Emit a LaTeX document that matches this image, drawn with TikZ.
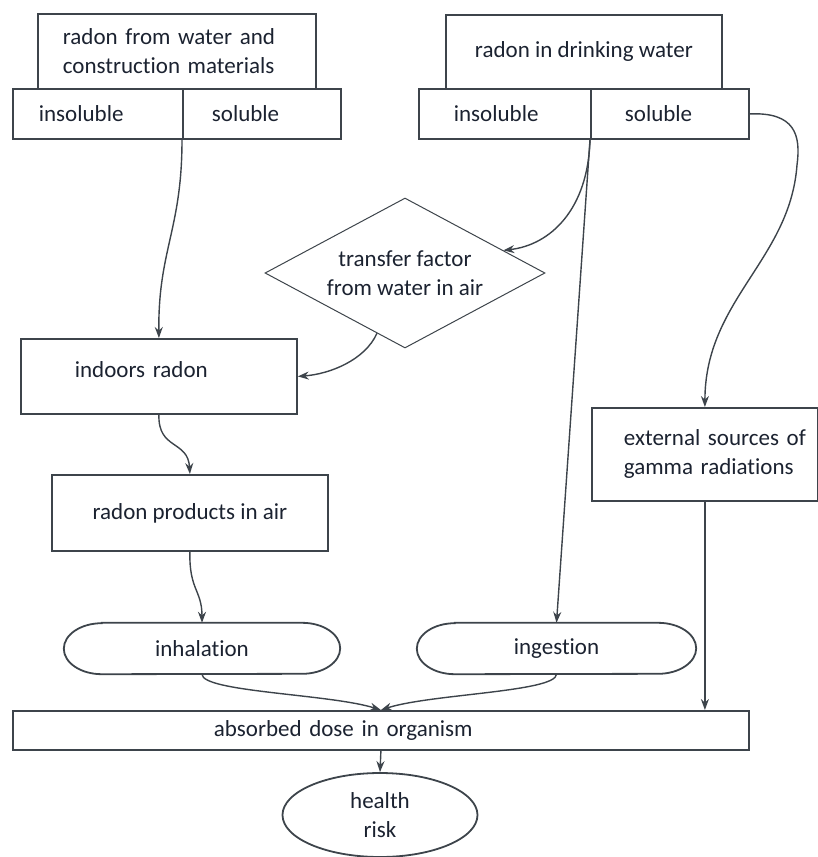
\documentclass[tikz,border=0pt]{standalone}
\usepackage{fontspec}
\setmainfont{Carlito}[Ligatures={NoCommon}]
\usetikzlibrary{arrows.meta,shapes.geometric,calc}

\definecolor{edgegray}{HTML}{3D444B}
\definecolor{inkblue}{HTML}{1B2230}

\begin{document}
\begin{tikzpicture}[
	x=1pt, y=-1pt,
	font=\fontsize{23}{29}\selectfont,
	every node/.style={text=inkblue},
	box/.style={
		draw=edgegray,
		line width=1.8pt,
		rectangle,
		inner sep=0pt
	},
	cell/.style n args={3}{
		box,
		anchor=north west,
		minimum height=#1,
		text width=#2,
		inner xsep=#3,
		align=left
	},
	oval/.style={rectangle, inner sep=0pt, minimum height=51pt},
	ovalline/.style={draw=edgegray, line width=1.8pt},
	flow/.style={draw=edgegray, line width=1.4pt, -{Stealth[length=11pt,width=8pt]}},
]

\useasboundingbox (0,0) rectangle (818,857);

% sources
\node[cell={75pt}{228pt}{25pt}] (wsrc) at (37,13) {radon from water and\\construction materials};
\node[box, anchor=north west, minimum width=276pt, minimum height=74pt] (dsrc) at (445,14) {radon in drinking water};

\node[cell={50pt}{118pt}{26pt}] (linsol) at (12,88) {insoluble};
\node[cell={50pt}{100pt}{29pt}] (lsol) at (182,88) {soluble};
\node[cell={50pt}{102pt}{35pt}] (rinsol) at (418,88) {insoluble};
\node[cell={50pt}{90pt}{34pt}] (rsol) at (590,88) {soluble};

% middle steps
\node[draw=edgegray, line width=1pt, diamond, shape aspect=1.87, minimum width=280pt, minimum height=150pt,
	inner sep=0pt, align=center] (tfac) at (405,273) {transfer factor\\from water in air};
\node[cell={75pt}{168pt}{54pt}, text depth=14pt] (indoor) at (20,338) {indoors radon};
\node[box, anchor=north west, minimum width=276pt, minimum height=76pt] (prod) at (51,474) {radon products in air};
\node[cell={93pt}{218pt}{4pt}] (ext) at (591,407) {\hspace*{28pt}external sources of\\\hspace*{28pt}gamma radiations};

% pathways
\node[oval, minimum width=276pt] (inhal) at (202,648.5) {inhalation};
\node[oval, minimum width=279pt] (ingest) at (556.5,648.5) {ingestion};
\foreach \n in {inhal,ingest} {
	\draw[ovalline] ([xshift=38pt]\n.north west) -- ([xshift=-38pt]\n.north east)
		arc[start angle=90, end angle=-90, x radius=38pt, y radius=25.5pt]
		-- ([xshift=38pt]\n.south west)
		arc[start angle=-90, end angle=-270, x radius=38pt, y radius=25.5pt] -- cycle;
}

% dose and risk
\node[cell={39pt}{334pt}{201pt}] (dose) at (12,710) {absorbed dose in organism};
\node[box, ellipse, minimum width=195pt, minimum height=84pt, align=center] (risk) at (380,815) {health\\risk};

% left column
\draw[flow] (lsol.south west) .. controls (182,230) and (158,250) .. (indoor.north);
\draw[flow] (indoor.south) .. controls (158,450) and (188,440) .. (prod.north);
\draw[flow] (prod.south) .. controls (189,590) and (202,590) .. (inhal.north);

% drinking water
\draw[flow] (rsol.south west) .. controls (588,210) and (550,245) .. ($(tfac.north)!0.7!(tfac.east)$);
\draw[flow] (rsol.south west) -- (ingest.north);
\draw[flow] ($(tfac.west)!0.8!(tfac.south)$) .. controls (365,360) and (330,374) .. (indoor.east);
\draw[flow] (rsol.east) .. controls (795,112) and (801,135) .. (797,165)
	.. controls (790,260) and (705,300) .. (ext.north);

% into the dose
\draw[flow] (ext.south) -- (ext.south |- dose.north);
\draw[flow] (inhal.south) .. controls (202,692) and (330,694) .. (dose.north);
\draw[flow] (ingest.south) .. controls (556,692) and (430,694) .. (dose.north);
\draw[flow] (dose.south) -- (risk.north);

\end{tikzpicture}
\end{document}
